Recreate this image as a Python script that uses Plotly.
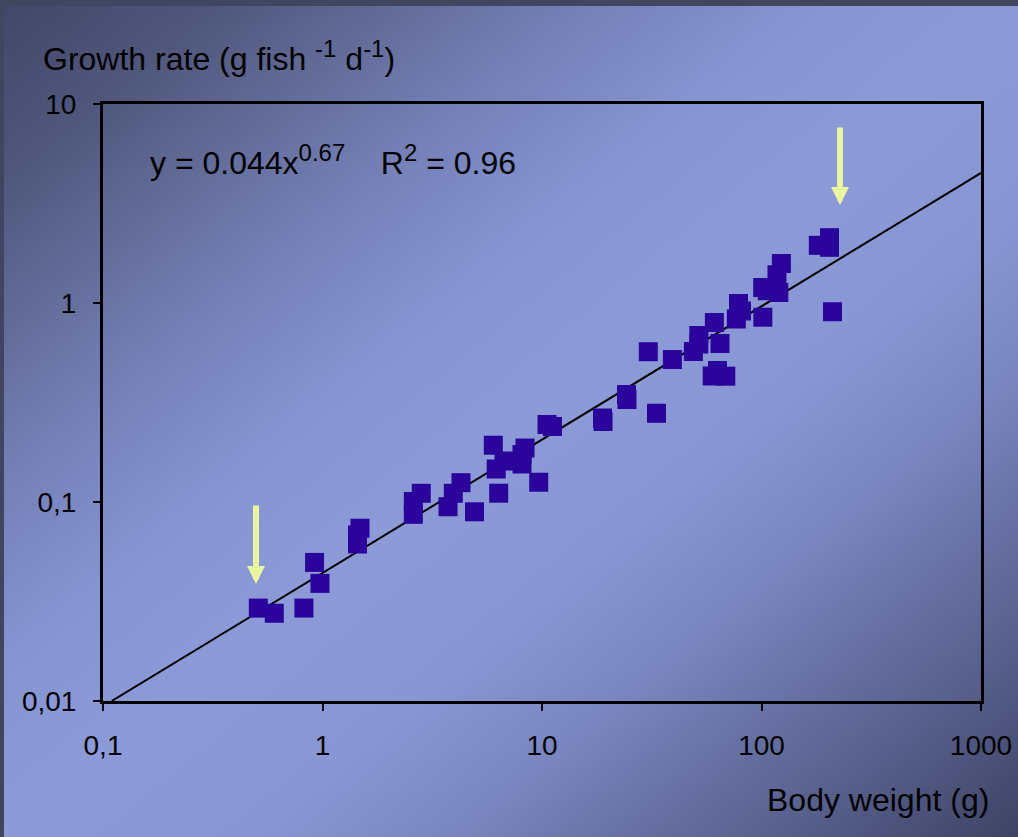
import base64, struct, zlib
import numpy as np
import plotly.graph_objects as go

# ---------------- data ----------------
body_weight = [0.510, 0.603, 0.823, 0.920, 0.974, 1.482, 1.444, 1.444,
               2.818, 2.593, 2.593, 4.276, 3.944, 3.731, 4.925, 6.349,
               6.000, 6.185, 6.713, 8.368, 8.108, 8.108, 9.66, 10.54,
               11.16, 18.87, 18.97, 24.27, 24.39, 30.5, 33.24, 39.27,
               48.95, 51.81, 51.81, 61.01, 64.7, 59.62, 63.03, 68.77,
               78.58, 76.79, 81.1, 101.4, 101.3, 106.3, 117.6, 119.9,
               123.2, 181.5, 204.1, 204.1, 210.6]
growth_rate = [0.0293, 0.0276, 0.0293, 0.0497, 0.0390, 0.0738, 0.0683, 0.0615,
               0.1106, 0.1006, 0.0867, 0.1250, 0.1106, 0.0947, 0.0893, 0.1107,
               0.1929, 0.1465, 0.1607, 0.1867, 0.1733, 0.1552, 0.1257, 0.2451,
               0.2395, 0.2643, 0.2538, 0.3469, 0.3274, 0.569, 0.2791, 0.520,
               0.5706, 0.6867, 0.6223, 0.798, 0.626, 0.4298, 0.4579, 0.4288,
               0.9943, 0.831, 0.9117, 0.8484, 1.1963, 1.153, 1.386, 1.129,
               1.580, 1.949, 2.129, 1.905, 0.904]

fit_a = 0.044
fit_b = 0.67
x_tick_vals = [0.1, 1, 10, 100, 1000]
x_tick_text = ["0,1", "1", "10", "100", "1000"]
y_tick_vals = [0.01, 0.1, 1, 10]
y_tick_text = ["0,01", "0,1", "1", "10"]

# fitted power-law line y = a x^b, drawn from y = 0.01 up to x = 1000
x_start = (0.01 / fit_a) ** (1 / fit_b)
fit_x = np.logspace(np.log10(x_start), 3, 200)
fit_y = fit_a * fit_x ** fit_b

# ---------------- background gradient (decoration) ----------------
W, H = 1018, 837
yy, xx = np.mgrid[0:H, 0:W]
t = (xx / W + yy / H) / 2.0
st = [0.0, 0.11, 0.18, 0.29, 0.40, 0.50, 0.62, 0.72, 0.80, 0.88, 1.0]
cr = [66, 80, 95, 117, 134, 140, 136, 122, 105, 88, 62]
cg = [71, 87, 104, 128, 148, 154, 150, 134, 114, 96, 67]
cb = [104, 124, 146, 184, 210, 216, 212, 192, 166, 140, 100]
img = np.stack([np.interp(t, st, cr), np.interp(t, st, cg), np.interp(t, st, cb)], -1)
img = np.clip(np.round(img), 0, 255).astype(np.uint8)
img[:6, :, :] = (64, 69, 96)
img[:, :4, :] = (64, 69, 96)
d = img.astype(np.int16)
d[:, 1:, :] = (img[:, 1:, :].astype(np.int16) - img[:, :-1, :].astype(np.int16)) % 256
rows = np.concatenate([np.ones((H, 1), np.uint8), d.astype(np.uint8).reshape(H, -1)], axis=1)


def _chunk(tag, data):
    return struct.pack('>I', len(data)) + tag + data + struct.pack('>I', zlib.crc32(tag + data) & 0xffffffff)


png = (b'\x89PNG\r\n\x1a\n'
       + _chunk(b'IHDR', struct.pack('>IIBBBBB', W, H, 8, 2, 0, 0, 0))
       + _chunk(b'IDAT', zlib.compress(rows.tobytes(), 9))
       + _chunk(b'IEND', b''))
bg_src = 'data:image/png;base64,' + base64.b64encode(png).decode()

# ---------------- figure ----------------
ML, MR, MT, MB = 103, 37, 104, 136
PW, PH = W - ML - MR, H - MT - MB
FONT = "Liberation Sans, Arial, sans-serif"

fig = go.Figure()
fig.add_trace(go.Scatter(x=fit_x, y=fit_y, mode='lines',
                         line=dict(color='black', width=2), hoverinfo='skip'))
fig.add_trace(go.Scatter(x=body_weight, y=growth_rate, mode='markers',
                         marker=dict(symbol='square', size=19, color='#2B049B',
                                     line=dict(width=0))))

axis_common = dict(type='log', showgrid=False, zeroline=False, showline=True,
                   linecolor='black', linewidth=3, mirror=True, automargin=False,
                   ticks='outside', ticklen=7, tickwidth=2, tickcolor='black',
                   tickfont=dict(family=FONT, size=28, color='black'))
fig.update_xaxes(range=[-1, 3], tickvals=x_tick_vals, ticktext=x_tick_text,
                 ticklabelstandoff=10, **axis_common)
fig.update_yaxes(range=[-2, 1], tickvals=y_tick_vals, ticktext=y_tick_text,
                 ticklabelstandoff=11, **axis_common)

sp = '\u00a0'
sup = lambda s: '<sup><span style="font-size:24px">' + s + '</span></sup>'
annotations = [
    dict(text='Growth rate (g fish' + sp + sup('-1') + ' d' + sup('-1') + ')',
         xref='paper', yref='paper', x=(41 - ML) / PW, y=(MT + PH - 56) / PH,
         xanchor='left', yanchor='middle', showarrow=False,
         font=dict(family=FONT, size=32, color='black')),
    dict(text='Body weight (g)', xref='paper', yref='paper',
         x=(991 - ML) / PW, y=(MT + PH - 800) / PH,
         xanchor='right', yanchor='middle', showarrow=False,
         font=dict(family=FONT, size=32, color='black')),
    dict(text='y = 0.044x' + sup('0.67') + sp * 4 + 'R' + sup('2') + ' = 0.96',
         xref='paper', yref='paper', x=(148 - ML) / PW, y=(MT + PH - 160) / PH,
         xanchor='left', yanchor='middle', showarrow=False,
         font=dict(family=FONT, size=32, color='black')),
]
for (px, tip_y, tail_y) in [(256, 584, 504), (840, 205, 126)]:
    annotations.append(dict(text='', xref='paper', yref='paper',
                            x=(px - ML) / PW, y=(MT + PH - tip_y) / PH,
                            ax=0, ay=-(tip_y - tail_y), showarrow=True,
                            arrowhead=2, arrowsize=0.6, arrowwidth=6,
                            arrowcolor='#EAF5A0', standoff=0))

fig.update_layout(
    width=W, height=H, autosize=False,
    margin=dict(l=ML, r=MR, t=MT, b=MB, pad=0, autoexpand=False),
    paper_bgcolor='#7d8bc6', plot_bgcolor='rgba(0,0,0,0)',
    showlegend=False, annotations=annotations,
    images=[dict(source=bg_src, xref='paper', yref='paper',
                 x=-ML / PW, y=(MT + PH) / PH, sizex=W / PW, sizey=H / PH,
                 xanchor='left', yanchor='top', sizing='stretch', layer='below')],
)

fig.write_html("out.html")
